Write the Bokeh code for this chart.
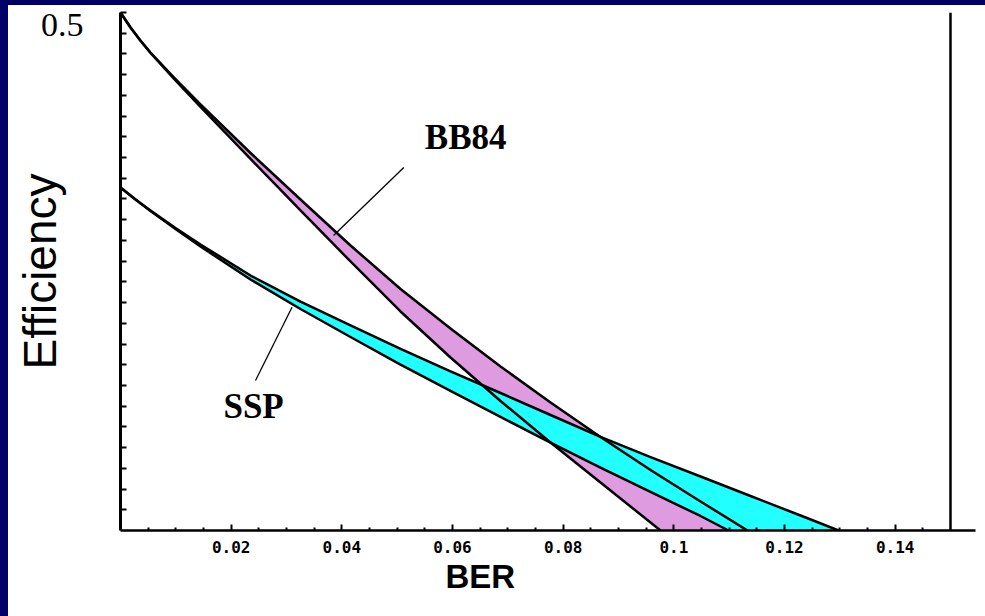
from bokeh.plotting import figure
from bokeh.models import (Range1d, FixedTicker, Label, Span,
                          Spacer, ColumnDataSource, Title)
from bokeh.layouts import column, row
from bokeh.embed import file_html
from bokeh.resources import INLINE

# ---------------- data ----------------
bb84_upper_x = [0, 0.00181, 0.00361, 0.00542, 0.00994, 0.01446, 0.02350, 0.03253, 0.04157, 0.05061,
                0.05964, 0.06868, 0.07772, 0.08675, 0.09579, 0.10483, 0.11332]
bb84_upper_y = [0.5, 0.4855, 0.4730, 0.4614, 0.4358, 0.4112, 0.3644, 0.3195, 0.2751, 0.2331,
                0.1950, 0.1583, 0.1236, 0.0903, 0.0584, 0.0280, 0.0]
bb84_lower_x = [0, 0.00181, 0.00361, 0.00542, 0.00994, 0.01446, 0.02350, 0.03253, 0.04157, 0.05061,
                0.05964, 0.06868, 0.07772, 0.08675, 0.09760]
bb84_lower_y = [0.5, 0.4855, 0.4728, 0.4609, 0.4344, 0.4088, 0.3586, 0.3089, 0.2597, 0.2114,
                0.1670, 0.1250, 0.0849, 0.0463, 0.0]
ssp_upper_x = [0, 0.00271, 0.00542, 0.00994, 0.01446, 0.02350, 0.03253, 0.04157, 0.05061, 0.05964,
               0.06868, 0.07772, 0.08675, 0.09579, 0.10483, 0.11386, 0.12290, 0.12977]
ssp_upper_y = [0.3311, 0.3195, 0.3089, 0.2920, 0.2761, 0.2461, 0.2210, 0.1979, 0.1752, 0.1535,
               0.1327, 0.1115, 0.0903, 0.0709, 0.0521, 0.0333, 0.0145, 0.0]
ssp_lower_x = [0, 0.00271, 0.00542, 0.00994, 0.01446, 0.02350, 0.03253, 0.04157, 0.05061, 0.05964,
               0.06868, 0.07772, 0.08675, 0.09579, 0.10483, 0.10989]
ssp_lower_y = [0.3311, 0.3195, 0.3084, 0.2910, 0.2741, 0.2423, 0.2138, 0.1868, 0.1602, 0.1347,
               0.1096, 0.0849, 0.0608, 0.0372, 0.0140, 0.0]

bb84_pointer_x = [0.0512, 0.0385]
bb84_pointer_y = [0.3504, 0.2847]
ssp_pointer_x = [0.0244, 0.0310]
ssp_pointer_y = [0.1448, 0.2155]

x_major_ticks = [0.02, 0.04, 0.06, 0.08, 0.10, 0.12, 0.14]
x_tick_labels = ["0.02", "0.04", "0.06", "0.08", "0.1", "0.12", "0.14"]
x_minor_ticks = [0.005, 0.01, 0.015, 0.025, 0.03, 0.035, 0.045, 0.05, 0.055, 0.065, 0.07, 0.075,
                 0.085, 0.09, 0.095, 0.105, 0.11, 0.115, 0.125, 0.13, 0.135, 0.145]
y_tick_marks = [0.02, 0.04, 0.06, 0.08, 0.10, 0.12, 0.14, 0.16, 0.18, 0.20, 0.22, 0.24, 0.26, 0.28,
                0.30, 0.32, 0.34, 0.36, 0.38, 0.40, 0.42, 0.44, 0.46, 0.48, 0.50]
y_label_position = [0.488]   # where the slide's "0.5" text sits
y_labels = ["0.5"]
x_right_edge = 0.15

NAVY = "#000066"
VIOLET = "#DF9BE0"
CYAN = "#22FFFF"

p = figure(frame_width=855, frame_height=518,
           min_border_left=112, min_border_right=10, min_border_top=7, min_border_bottom=86,
           x_range=Range1d(0, 0.15452), y_range=Range1d(0, 0.5),
           output_backend="svg", toolbar_location=None,
           background_fill_color="white", border_fill_color="white")
p.outline_line_color = None
p.grid.visible = False

# bands
bb_patch = ColumnDataSource(dict(x=bb84_upper_x + bb84_lower_x[::-1], y=bb84_upper_y + bb84_lower_y[::-1]))
ssp_patch = ColumnDataSource(dict(x=ssp_upper_x + ssp_lower_x[::-1], y=ssp_upper_y + ssp_lower_y[::-1]))
p.patch("x", "y", source=bb_patch, fill_color=VIOLET, line_color=None)
p.patch("x", "y", source=ssp_patch, fill_color=CYAN, line_color=None)

for xs, ys in [(bb84_upper_x, bb84_upper_y), (bb84_lower_x, bb84_lower_y),
               (ssp_upper_x, ssp_upper_y), (ssp_lower_x, ssp_lower_y)]:
    p.line(xs, ys, line_color="black", line_width=2.5, line_join="round")

p.line(bb84_pointer_x, bb84_pointer_y, line_color="black", line_width=1.3)
p.line(ssp_pointer_x, ssp_pointer_y, line_color="black", line_width=1.3)

p.add_layout(Span(location=x_right_edge, dimension="height", line_color="black", line_width=2.5))

# x axis
xa = p.xaxis[0]
xa.ticker = FixedTicker(ticks=x_major_ticks, minor_ticks=x_minor_ticks)
xa.major_label_overrides = {t: l for t, l in zip(x_major_ticks, x_tick_labels)}
xa.axis_line_width = 2.5
xa.major_tick_in = 6
xa.major_tick_out = 0
xa.minor_tick_in = 3
xa.minor_tick_out = 0
xa.major_tick_line_width = 2
xa.minor_tick_line_width = 2
xa.major_label_standoff = 10
xa.major_label_text_font = "DejaVu Sans Mono"
xa.major_label_text_font_style = "bold"
xa.major_label_text_font_size = "16px"
xa.major_label_text_color = "black"

# y axis: tick marks every 0.02, only the "0.5" text as label
ya = p.yaxis[0]
ya.ticker = FixedTicker(ticks=y_label_position, minor_ticks=y_tick_marks)
ya.major_label_overrides = {t: l for t, l in zip(y_label_position, y_labels)}
ya.axis_line_width = 3
ya.major_tick_in = 0
ya.major_tick_out = 0
ya.minor_tick_in = 6
ya.minor_tick_out = 0
ya.minor_tick_line_width = 2
ya.major_label_standoff = 37
ya.major_label_text_font = "Liberation Serif"
ya.major_label_text_font_size = "34px"
ya.major_label_text_color = "black"
ya.axis_label = "Efficiency"
ya.axis_label_text_font = "Liberation Sans"
ya.axis_label_text_font_size = "46px"
ya.axis_label_text_font_style = "normal"
ya.axis_label_text_color = "black"
ya.axis_label_standoff = -28

# x axis title placed like the slide's "BER"
p.add_layout(Title(text="BER", align="left", offset=325, standoff=0,
                   text_font="Liberation Sans", text_font_style="bold",
                   text_font_size="33px", text_color="black"), "below")

# curve labels
p.add_layout(Label(x=0.0550, y=0.3794, text="BB84", text_font="Liberation Serif",
                   text_font_style="bold", text_color="black",
                   text_font_size="35px", text_align="left", text_baseline="alphabetic"))
p.add_layout(Label(x=0.0186, y=0.1200, text="SSP", text_font="Liberation Serif",
                   text_font_style="bold", text_color="black",
                   text_font_size="35px", text_align="left", text_baseline="alphabetic"))

top = Spacer(width=985, height=5, styles={"background-color": NAVY})
left = Spacer(width=8, height=611, styles={"background-color": NAVY})
layout = column(top, row(left, p, spacing=0), spacing=0)

open("out.html", "w").write(file_html(layout, INLINE))
